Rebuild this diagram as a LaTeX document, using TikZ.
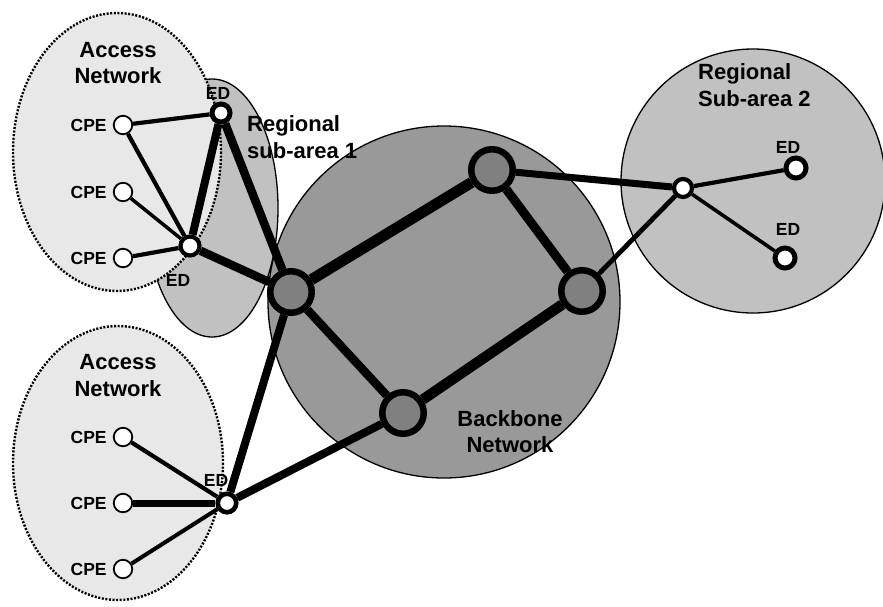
\documentclass[tikz,border=0pt]{standalone}
\usepackage{fontspec}
\setmainfont{Liberation Sans}
\begin{document}
\begin{tikzpicture}[x=1pt,y=-1pt,
  bigtext/.style={font=\fontsize{22}{26.5}\selectfont\bfseries,inner sep=0pt},
  smalltext/.style={font=\fontsize{17.5}{20}\selectfont\bfseries,inner sep=0pt},
  accessarea/.style={fill=accessgray,draw=black,line width=2.4pt,dash pattern=on 2pt off 1.6pt},
  regionarea/.style={fill=regiongray,draw=black,line width=1.3pt},
  cpe/.style={circle,draw=black,fill=white,line width=1.8pt,minimum size=18.5pt,inner sep=0pt},
  ednode/.style={circle,draw=black,fill=white,inner sep=0pt},
  core/.style={circle,draw=black,fill=coregray,line width=6.5pt,minimum size=41.5pt,inner sep=0pt},
  link/.style={draw=black,line width=#1},
]
\definecolor{accessgray}{gray}{0.91}
\definecolor{regiongray}{gray}{0.755}
\definecolor{backbonegray}{gray}{0.6}
\definecolor{coregray}{gray}{0.5}
\useasboundingbox (0,0) rectangle (883,606);

% ---- areas ----
\path[regionarea] (212,208) ellipse [x radius=66, y radius=129];
\path[regionarea,fill=backbonegray] (444,302) circle [radius=176];
\path[regionarea] (753,181) circle [radius=132];
\path[accessarea] (117,152) ellipse [x radius=104, y radius=139];
\path[accessarea] (118,463) ellipse [x radius=105, y radius=137];

% ---- upper access network ----
\node[cpe] (ca1) at (123,125) {};
\node[cpe] (ca2) at (123,192) {};
\node[cpe] (ca3) at (123,258) {};
\node[ednode,line width=5pt,minimum size=18pt] (edT) at (221,113) {};
\node[ednode,line width=4.2pt,minimum size=19pt] (edL) at (190,246) {};

% ---- backbone ----
\node[core] (b1) at (291,292) {};
\node[core] (b2) at (492,170) {};
\node[core] (b3) at (582,291) {};
\node[core] (b4) at (403,413) {};

% ---- regional sub-area 2 ----
\node[ednode,line width=4.2pt,minimum size=18pt] (hub) at (683,188) {};
\node[ednode,line width=5pt,minimum size=20pt] (edR1) at (796,168) {};
\node[ednode,line width=5pt,minimum size=20pt] (edR2) at (785,258) {};

% ---- lower access network ----
\node[cpe] (cb1) at (123,437) {};
\node[cpe] (cb2) at (123,503) {};
\node[cpe] (cb3) at (123,569) {};
\node[ednode,line width=4.6pt,minimum size=18.5pt] (edB) at (227,503) {};

% ---- links ----
\draw[link=4.2pt] (ca1) -- (edT);
\draw[link=4.2pt] (ca1) -- (edL);
\draw[link=3.5pt] (ca2) -- (edL);
\draw[link=4.2pt] (ca3) -- (edL);
\draw[link=8pt] (edL) -- (edT);
\draw[link=8.5pt] (edT) -- (b1);
\draw[link=8.5pt] (edL) -- (b1);

\draw[link=11pt] (b1) -- (b2);
\draw[link=9pt] (b2) -- (b3);
\draw[link=10.5pt] (b3) -- (b4);
\draw[link=8.5pt] (b1) -- (b4);

\draw[link=7pt] (b2) -- (hub);
\draw[link=4.8pt] (b3) -- (hub);
\draw[link=4.2pt] (hub) -- (edR1);
\draw[link=3.6pt] (hub) -- (edR2);

\draw[link=4.2pt] (cb1) -- (edB);
\draw[link=7pt] (cb2) -- (edB);
\draw[link=4pt] (cb3) -- (edB);
\draw[link=8pt] (edB) -- (b1);
\draw[link=8pt] (edB) -- (b4);

% ---- labels ----
\node[bigtext,align=center] (lblA1) at (118,63) {Access\\Network};
\node[bigtext,align=center] (lblA2) at (118,375.5) {Access\\Network};
\node[bigtext,align=left,anchor=west] (lblR1) at (247,137) {Regional\\sub-area 1};
\node[bigtext,align=left,anchor=west] (lblR2) at (698,85) {Regional\\Sub-area 2};
\node[bigtext,align=center] (lblBB) at (510,431.5) {Backbone\\Network};

\foreach \n in {ca1,ca2,ca3,cb1,cb2,cb3}
  \node[smalltext,anchor=east] at ([xshift=-6pt]\n.west) {CPE};
\node[smalltext] (lblEDT) at (218,93) {ED};
\node[smalltext] (lblEDL) at (178,280) {ED};
\node[smalltext] (lblEDB) at (216,480) {ED};
\node[smalltext] (lblEDR1) at (788,147) {ED};
\node[smalltext] (lblEDR2) at (788,229) {ED};
\end{tikzpicture}
\end{document}
